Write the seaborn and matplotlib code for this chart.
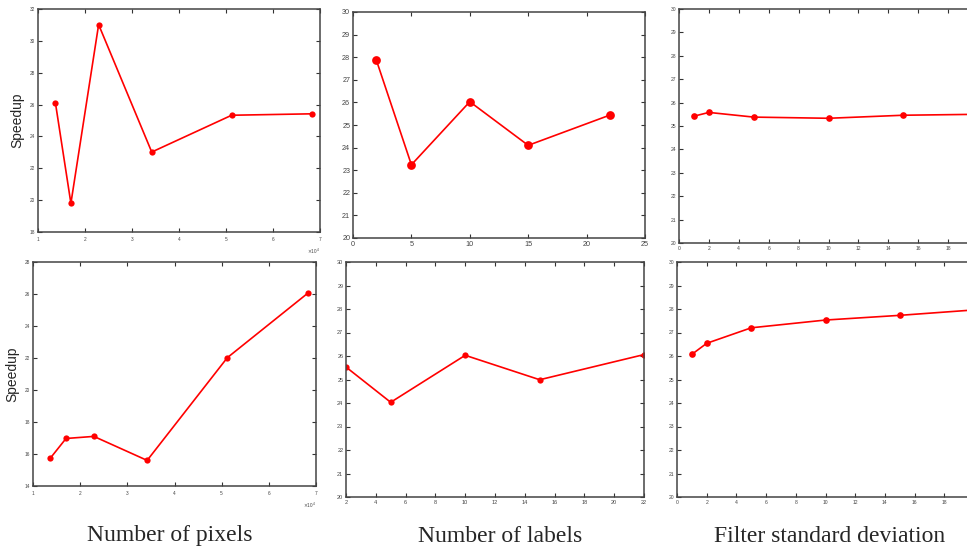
import numpy as np
import pandas as pd
import seaborn as sns
import matplotlib.pyplot as plt
from matplotlib.ticker import ScalarFormatter

# datos
pixels = [13700, 17000, 22900, 34200, 51200, 68300]
speed_pix_top = [26.12, 19.8, 31.02, 23.02, 25.33, 25.42]
speed_pix_bot = [15.75, 16.97, 17.1, 15.6, 22.02, 26.06]

labels_top = [2, 5, 10, 15, 22]
speed_lab_top = [27.87, 23.24, 26.03, 24.1, 25.44]
labels_bot = [2, 5, 10, 15, 22]
speed_lab_bot = [25.53, 24.03, 26.03, 24.99, 26.06]

sigma = [1, 2, 5, 10, 15, 20]
speed_sig_top = [25.42, 25.58, 25.38, 25.33, 25.46, 25.5]
speed_sig_bot = [26.07, 26.54, 27.2, 27.53, 27.73, 27.96]

sns.set_style('ticks')
plt.rcParams['font.family'] = ['Liberation Sans', 'DejaVu Sans']

W, H = 967, 550
fig = plt.figure(figsize=(W / 100, H / 100), dpi=100)

def box(l, r, t, b):
    return [l / W, 1 - b / H, (r - l) / W, (b - t) / H]

paneles = [
    (box(38, 320, 9, 232), pixels, speed_pix_top, (1e4, 7e4), (18, 32), np.arange(18, 33, 2), None, 3.4, 4.5),
    (box(353, 645, 12, 238), labels_top, speed_lab_top, (0, 25), (20, 30), np.arange(20, 31, 1), np.arange(0, 26, 5), 5.2, 6.3),
    (box(679, 978, 9, 243), sigma, speed_sig_top, (0, 20), (20, 30), np.arange(20, 31, 1), np.arange(0, 19, 2), 3.6, 4.8),
    (box(33, 316, 262, 486), pixels, speed_pix_bot, (1e4, 7e4), (14, 28), np.arange(14, 29, 2), None, 3.4, 4.5),
    (box(346, 644, 262, 497), labels_bot, speed_lab_bot, (2, 22), (20, 30), np.arange(20, 31, 1), np.arange(2, 23, 2), 4.0, 4.5),
    (box(677, 974, 262, 497), sigma, speed_sig_bot, (0, 20), (20, 30), np.arange(20, 31, 1), np.arange(0, 19, 2), 3.6, 4.8),
]

axes = []
for pos, x, y, xl, yl, yt, xt, fs, ms in paneles:
    ax = fig.add_axes(pos)
    sns.lineplot(ax=ax, x=x, y=y, color='red', marker='o', markersize=ms,
                 markeredgewidth=0, linewidth=1.2)
    ax.set_xlim(xl)
    ax.set_ylim(yl)
    ax.set_yticks(yt)
    if xt is not None:
        ax.set_xticks(xt)
    else:
        ax.set_xticks(np.arange(1e4, 7.1e4, 1e4))
        fmt = ScalarFormatter(useMathText=True)
        fmt.set_powerlimits((0, 0))
        ax.xaxis.set_major_formatter(fmt)
        ax.xaxis.get_offset_text().set_fontsize(fs)
        ax.xaxis.get_offset_text().set_color('#555555')
    ax.tick_params(direction='in', top=True, right=True, labelsize=fs,
                   labelcolor='#444444', length=3, width=0.8, color='#333333', pad=2)
    for s in ax.spines.values():
        s.set_linewidth(1.1)
        s.set_color('#444444')
    axes.append(ax)

axes[0].set_ylabel('Speedup', fontsize=10, labelpad=4)
axes[3].set_ylabel('Speedup', fontsize=10, labelpad=4)

# titulos de columna
for xc, txt in [(170, 'Number of pixels'), (500, 'Number of labels'), (830, 'Filter standard deviation')]:
    fig.text(xc / W, 1 - 536 / H, txt, ha='center', va='center', fontsize=17,
             family=['Liberation Serif', 'DejaVu Serif'])

fig.savefig('out.png', dpi=100)
